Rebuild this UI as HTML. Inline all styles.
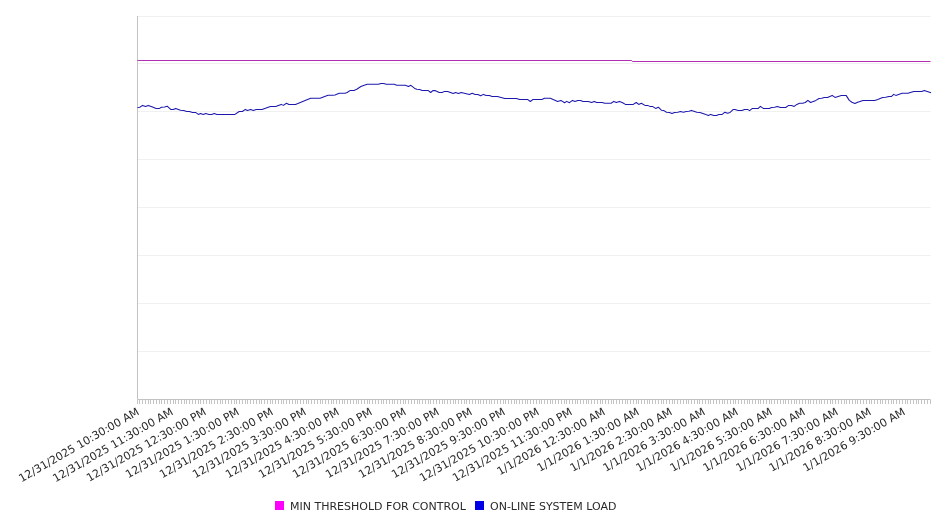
<!DOCTYPE html>
<html><head><meta charset="utf-8"><title>Chart</title>
<style>html,body{margin:0;padding:0;background:#fff}svg{display:block}text{font-family:"DejaVu Sans","Liberation Sans",sans-serif;font-size:11px;fill:#2a2a2a}</style></head><body>
<svg width="946" height="526" viewBox="0 0 946 526">
<rect width="946" height="526" fill="#fff"/>
<path d="M137.5 16.5H930.5M137.5 63.5H930.5M137.5 111.5H930.5M137.5 159.5H930.5M137.5 207.5H930.5M137.5 255.5H930.5M137.5 303.5H930.5M137.5 351.5H930.5M137.5 399.5H930.5" stroke="#f0f0f0" stroke-width="1" fill="none"/>
<path d="M137.5 400v4M139.5 400v4M142.5 400v4M145.5 400v4M148.5 400v4M150.5 400v4M153.5 400v4M156.5 400v4M159.5 400v4M161.5 400v4M164.5 400v4M167.5 400v4M170.5 400v4M173.5 400v4M175.5 400v4M178.5 400v4M181.5 400v4M184.5 400v4M186.5 400v4M189.5 400v4M192.5 400v4M195.5 400v4M198.5 400v4M200.5 400v4M203.5 400v4M206.5 400v4M209.5 400v4M211.5 400v4M214.5 400v4M217.5 400v4M220.5 400v4M222.5 400v4M225.5 400v4M228.5 400v4M231.5 400v4M234.5 400v4M236.5 400v4M239.5 400v4M242.5 400v4M245.5 400v4M247.5 400v4M250.5 400v4M253.5 400v4M256.5 400v4M259.5 400v4M261.5 400v4M264.5 400v4M267.5 400v4M270.5 400v4M272.5 400v4M275.5 400v4M278.5 400v4M281.5 400v4M283.5 400v4M286.5 400v4M289.5 400v4M292.5 400v4M295.5 400v4M297.5 400v4M300.5 400v4M303.5 400v4M306.5 400v4M308.5 400v4M311.5 400v4M314.5 400v4M317.5 400v4M320.5 400v4M322.5 400v4M325.5 400v4M328.5 400v4M331.5 400v4M333.5 400v4M336.5 400v4M339.5 400v4M342.5 400v4M344.5 400v4M347.5 400v4M350.5 400v4M353.5 400v4M356.5 400v4M358.5 400v4M361.5 400v4M364.5 400v4M367.5 400v4M369.5 400v4M372.5 400v4M375.5 400v4M378.5 400v4M381.5 400v4M383.5 400v4M386.5 400v4M389.5 400v4M392.5 400v4M394.5 400v4M397.5 400v4M400.5 400v4M403.5 400v4M405.5 400v4M408.5 400v4M411.5 400v4M414.5 400v4M417.5 400v4M419.5 400v4M422.5 400v4M425.5 400v4M428.5 400v4M430.5 400v4M433.5 400v4M436.5 400v4M439.5 400v4M442.5 400v4M444.5 400v4M447.5 400v4M450.5 400v4M453.5 400v4M455.5 400v4M458.5 400v4M461.5 400v4M464.5 400v4M466.5 400v4M469.5 400v4M472.5 400v4M475.5 400v4M478.5 400v4M480.5 400v4M483.5 400v4M486.5 400v4M489.5 400v4M491.5 400v4M494.5 400v4M497.5 400v4M500.5 400v4M503.5 400v4M505.5 400v4M508.5 400v4M511.5 400v4M514.5 400v4M516.5 400v4M519.5 400v4M522.5 400v4M525.5 400v4M527.5 400v4M530.5 400v4M533.5 400v4M536.5 400v4M539.5 400v4M541.5 400v4M544.5 400v4M547.5 400v4M550.5 400v4M552.5 400v4M555.5 400v4M558.5 400v4M561.5 400v4M564.5 400v4M566.5 400v4M569.5 400v4M572.5 400v4M575.5 400v4M577.5 400v4M580.5 400v4M583.5 400v4M586.5 400v4M588.5 400v4M591.5 400v4M594.5 400v4M597.5 400v4M600.5 400v4M602.5 400v4M605.5 400v4M608.5 400v4M611.5 400v4M613.5 400v4M616.5 400v4M619.5 400v4M622.5 400v4M625.5 400v4M627.5 400v4M630.5 400v4M633.5 400v4M636.5 400v4M638.5 400v4M641.5 400v4M644.5 400v4M647.5 400v4M649.5 400v4M652.5 400v4M655.5 400v4M658.5 400v4M661.5 400v4M663.5 400v4M666.5 400v4M669.5 400v4M672.5 400v4M674.5 400v4M677.5 400v4M680.5 400v4M683.5 400v4M686.5 400v4M688.5 400v4M691.5 400v4M694.5 400v4M697.5 400v4M699.5 400v4M702.5 400v4M705.5 400v4M708.5 400v4M710.5 400v4M713.5 400v4M716.5 400v4M719.5 400v4M722.5 400v4M724.5 400v4M727.5 400v4M730.5 400v4M733.5 400v4M735.5 400v4M738.5 400v4M741.5 400v4M744.5 400v4M747.5 400v4M749.5 400v4M752.5 400v4M755.5 400v4M758.5 400v4M760.5 400v4M763.5 400v4M766.5 400v4M769.5 400v4M771.5 400v4M774.5 400v4M777.5 400v4M780.5 400v4M783.5 400v4M785.5 400v4M788.5 400v4M791.5 400v4M794.5 400v4M796.5 400v4M799.5 400v4M802.5 400v4M805.5 400v4M808.5 400v4M810.5 400v4M813.5 400v4M816.5 400v4M819.5 400v4M821.5 400v4M824.5 400v4M827.5 400v4M830.5 400v4M832.5 400v4M835.5 400v4M838.5 400v4M841.5 400v4M844.5 400v4M846.5 400v4M849.5 400v4M852.5 400v4M855.5 400v4M857.5 400v4M860.5 400v4M863.5 400v4M866.5 400v4M869.5 400v4M871.5 400v4M874.5 400v4M877.5 400v4M880.5 400v4M882.5 400v4M885.5 400v4M888.5 400v4M891.5 400v4M893.5 400v4M896.5 400v4M899.5 400v4M902.5 400v4M905.5 400v4M907.5 400v4M910.5 400v4M913.5 400v4M916.5 400v4M918.5 400v4M921.5 400v4M924.5 400v4M927.5 400v4M930.5 400v4" stroke="#c4c4c4" stroke-width="1" fill="none"/>
<path d="M137.5 16V399.5H930.5" stroke="#c2c2c2" stroke-width="1" fill="none"/>
<path d="M137.5 60.5H631.5L632.5 61.5H930.5" stroke="#b22eb2" stroke-width="1" fill="none"/>
<path d="M137.5 107.4L139.8 107.2L142.6 105.4L145.6 106.4L148.2 105.4L151.9 106.7L156.1 108.4L159.5 108.4L161.4 107.2L164.6 107.0L167.2 106.2L170.7 109.4L173.3 109.4L175.7 108.4L180.5 110.2L183.6 110.4L186.8 111.5L189.4 111.5L192.6 112.4L195.5 112.4L198.4 114.4L200.5 113.5L203.2 114.4L205.8 113.5L209.0 114.4L211.6 114.4L214.3 113.5L216.9 114.4L235.0 114.4L239.2 111.5L242.4 111.5L245.3 109.4L247.5 110.4L250.6 109.4L253.5 110.4L256.1 109.4L262.0 109.4L270.4 106.4L275.7 106.4L281.2 104.4L283.3 105.4L286.5 103.3L288.9 104.4L295.5 104.4L310.6 98.3L320.1 98.3L328.0 95.3L332.8 95.3L335.0 94.9L339.2 93.3L345.0 93.3L347.2 92.5L350.3 90.4L354.0 90.4L356.7 89.3L360.9 86.5L363.5 85.4L367.2 84.3L378.3 84.3L381.0 83.4L383.6 83.4L386.3 84.3L394.2 84.3L396.8 85.3L405.3 85.3L408.5 86.5L410.9 85.3L415.3 88.8L416.9 89.3L419.6 89.5L422.2 90.4L428.0 90.4L430.7 92.5L432.8 90.6L435.0 90.6L439.2 92.5L442.2 92.5L444.5 91.4L447.7 91.4L453.2 93.5L455.6 92.5L458.5 93.5L461.2 92.5L469.4 94.6L472.2 93.3L475.2 94.4L477.8 94.4L480.7 95.7L483.4 94.4L486.3 95.4L489.4 95.4L492.1 96.4L497.4 96.4L504.8 98.4L516.4 98.4L519.6 99.4L527.5 99.4L530.3 101.5L533.1 99.4L535.0 99.4L541.9 99.5L544.5 98.3L550.3 98.3L557.7 101.4L560.9 100.4L564.6 102.7L566.7 101.4L569.4 102.7L572.5 100.4L575.0 101.4L577.8 100.4L580.5 100.4L583.1 101.4L588.4 101.4L591.6 102.5L594.2 101.4L596.8 102.5L602.1 102.5L604.8 103.3L611.1 103.3L613.8 101.4L616.4 102.5L619.4 101.4L622.2 102.5L625.4 104.4L633.3 104.4L635.0 103.3L636.3 102.5L638.7 104.4L641.3 103.3L645.0 105.4L647.7 105.4L649.8 106.4L652.4 106.4L655.6 108.4L658.3 107.2L661.4 110.2L663.5 110.4L666.5 112.2L669.4 112.4L672.0 113.5L674.6 112.4L677.8 112.2L680.5 111.5L683.4 112.2L686.3 111.5L688.9 111.3L691.6 110.4L696.8 112.2L700.0 112.4L705.8 114.6L708.5 115.5L710.6 114.4L713.8 115.5L716.4 115.5L719.0 114.6L722.2 114.4L724.9 112.2L727.5 113.3L730.1 112.4L733.3 109.4L735.0 109.4L738.2 110.4L741.9 110.4L744.5 109.4L747.5 109.4L749.6 110.6L752.4 108.4L758.3 108.4L760.4 106.4L763.3 108.4L769.4 108.4L771.5 107.5L774.6 107.2L777.3 106.4L780.5 107.5L785.7 107.5L788.7 105.4L791.6 105.4L794.2 106.4L796.8 104.4L799.5 103.3L802.7 103.3L805.3 102.5L807.9 100.4L810.6 102.5L815.9 100.4L819.0 98.5L821.7 98.3L824.3 97.4L827.5 97.4L832.2 95.4L835.0 97.4L841.3 95.4L846.1 95.4L849.3 100.4L851.9 102.2L854.9 103.5L857.7 102.2L863.0 100.4L874.6 100.4L877.8 99.4L882.6 97.5L885.7 97.2L888.9 96.4L891.6 96.4L893.7 94.4L895.8 95.4L902.1 93.3L907.9 93.3L913.8 91.4L921.7 91.4L924.3 90.4L931.0 92.7" stroke="#1c18ac" stroke-width="1.05" fill="none" stroke-linejoin="round"/>
<text text-anchor="end" transform="translate(140.00,414.00) rotate(-30)">12/31/2025 10:30:00 AM</text>
<text text-anchor="end" transform="translate(174.00,414.00) rotate(-30)">12/31/2025 11:30:00 AM</text>
<text text-anchor="end" transform="translate(207.00,414.00) rotate(-30)">12/31/2025 12:30:00 PM</text>
<text text-anchor="end" transform="translate(240.00,414.00) rotate(-30)">12/31/2025 1:30:00 PM</text>
<text text-anchor="end" transform="translate(274.00,414.00) rotate(-30)">12/31/2025 2:30:00 PM</text>
<text text-anchor="end" transform="translate(307.00,414.00) rotate(-30)">12/31/2025 3:30:00 PM</text>
<text text-anchor="end" transform="translate(340.00,414.00) rotate(-30)">12/31/2025 4:30:00 PM</text>
<text text-anchor="end" transform="translate(373.00,414.00) rotate(-30)">12/31/2025 5:30:00 PM</text>
<text text-anchor="end" transform="translate(407.00,414.00) rotate(-30)">12/31/2025 6:30:00 PM</text>
<text text-anchor="end" transform="translate(440.00,414.00) rotate(-30)">12/31/2025 7:30:00 PM</text>
<text text-anchor="end" transform="translate(473.00,414.00) rotate(-30)">12/31/2025 8:30:00 PM</text>
<text text-anchor="end" transform="translate(506.00,414.00) rotate(-30)">12/31/2025 9:30:00 PM</text>
<text text-anchor="end" transform="translate(540.00,414.00) rotate(-30)">12/31/2025 10:30:00 PM</text>
<text text-anchor="end" transform="translate(573.00,414.00) rotate(-30)">12/31/2025 11:30:00 PM</text>
<text text-anchor="end" transform="translate(606.00,414.00) rotate(-30)">1/1/2026 12:30:00 AM</text>
<text text-anchor="end" transform="translate(640.00,414.00) rotate(-30)">1/1/2026 1:30:00 AM</text>
<text text-anchor="end" transform="translate(673.00,414.00) rotate(-30)">1/1/2026 2:30:00 AM</text>
<text text-anchor="end" transform="translate(706.00,414.00) rotate(-30)">1/1/2026 3:30:00 AM</text>
<text text-anchor="end" transform="translate(739.00,414.00) rotate(-30)">1/1/2026 4:30:00 AM</text>
<text text-anchor="end" transform="translate(773.00,414.00) rotate(-30)">1/1/2026 5:30:00 AM</text>
<text text-anchor="end" transform="translate(806.00,414.00) rotate(-30)">1/1/2026 6:30:00 AM</text>
<text text-anchor="end" transform="translate(839.00,414.00) rotate(-30)">1/1/2026 7:30:00 AM</text>
<text text-anchor="end" transform="translate(872.00,414.00) rotate(-30)">1/1/2026 8:30:00 AM</text>
<text text-anchor="end" transform="translate(906.00,414.00) rotate(-30)">1/1/2026 9:30:00 AM</text>
<rect x="275" y="501" width="9" height="9" fill="#ff00ff"/>
<text x="290" y="510">MIN THRESHOLD FOR CONTROL</text>
<rect x="475" y="501" width="9" height="9" fill="#0000e6"/>
<text x="490" y="510">ON-LINE SYSTEM LOAD</text>
</svg></body></html>
